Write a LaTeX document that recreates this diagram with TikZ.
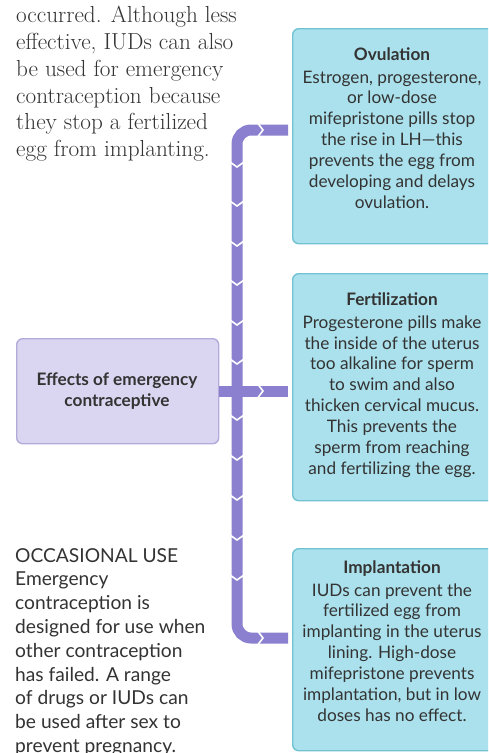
\documentclass[tikz,border=0pt]{standalone}
\usepackage{fontspec}
\newfontfamily\lato{Lato}
\definecolor{tealfill}{HTML}{ABE1EC}
\definecolor{tealedge}{HTML}{72C3D2}
\definecolor{purfill}{HTML}{DAD5F0}
\definecolor{puredge}{HTML}{B4ABDB}
\definecolor{brk}{HTML}{8A80CF}
\definecolor{txt}{HTML}{333333}
\begin{document}
\begin{tikzpicture}[x=1pt,y=-1pt]
\tikzset{
  tealbox/.style={draw=tealedge, fill=tealfill, rounded corners=6pt, line width=1.4pt, inner sep=0pt, anchor=north west},
  purbox/.style={draw=puredge, fill=purfill, rounded corners=6pt, line width=1.4pt, inner sep=0pt, anchor=north west},
  boxtext/.style={font=\lato\fontsize{17.2}{20.9}\selectfont, align=center, text=txt, inner sep=0pt},
  sidetext/.style={font=\lato\fontsize{19.2}{23.8}\selectfont, align=left, text=txt, inner sep=0pt, anchor=north west},
  serift/.style={font=\fontsize{23.2}{26.8}\selectfont, align=left, text=txt, inner sep=0pt, anchor=north west},
  bracket/.style={draw=brk, line width=11pt},
  gapmark/.style={draw=white, line width=1.6pt}
}
\useasboundingbox (0,0) rectangle (488,753);
\clip (0,0) rectangle (488,753);
\fill[white] (0,0) rectangle (488,753);

% top-left serif text
\node[serift] (intro) at (16,6) {occurred. Although less\\effective, IUDs can also\\be used for emergency\\contraception because\\they stop a fertilized\\egg from implanting.};

% bottom-left text
\node[sidetext] (occ) at (15,548) {OCCASIONAL USE\\Emergency\\contraception is\\designed for use when\\other contraception\\has failed. A range\\of drugs or IUDs can\\be used after sex to\\prevent pregnancy.};

% boxes
\node[tealbox, minimum width=210pt, minimum height=215pt] (ov) at (292,28) {};
\node[tealbox, minimum width=210pt, minimum height=227pt] (fe) at (292,273) {};
\node[tealbox, minimum width=210pt, minimum height=202pt] (im) at (292,548) {};
\node[purbox, minimum width=202pt, minimum height=105pt] (eff) at (16,338) {};

\node[boxtext] (efft) at (117,391) {\bfseries Effects of emergency\\\bfseries contraceptive};

\node[boxtext] (ovt) at (392,128) {\bfseries Ovulation\\[2pt]Estrogen, progesterone,\\or low-dose\\mifepristone pills stop\\the rise in LH—this\\prevents the egg from\\developing and delays\\ovulation.};

\node[boxtext] (fet) at (392,385) {\bfseries Fertilization\\[2pt]Progesterone pills make\\the inside of the uterus\\too alkaline for sperm\\to swim and also\\thicken cervical mucus.\\This prevents the\\sperm from reaching\\and fertilizing the egg.};

\node[boxtext] (imt) at (392,641) {\bfseries Implantation\\[2pt]IUDs can prevent the\\fertilized egg from\\implanting in the uterus\\lining. High-dose\\mifepristone prevents\\implantation, but in low\\doses has no effect.};

% bracket connectors
\coordinate (jt) at (237,130);
\coordinate (jb) at (237,638);
\coordinate (et) at (288,130);
\coordinate (eb) at (288,638);
\coordinate (em) at (288,391);
\draw[bracket, rounded corners=14pt] (et) -- (jt) -- (jb) -- (eb);
\draw[bracket] (eff.east |- em) -- (em);

% dash gaps
\foreach \yy in {165,204,244,283,323,362,418,458,498,538,578}
  \draw[gapmark] (230,\yy-3) -- (237,\yy+2) -- (244,\yy-3);
\foreach \yy in {130,391,638}
  \draw[gapmark] (258,\yy-6.5) -- (263,\yy) -- (258,\yy+6.5);
\end{tikzpicture}
\end{document}
